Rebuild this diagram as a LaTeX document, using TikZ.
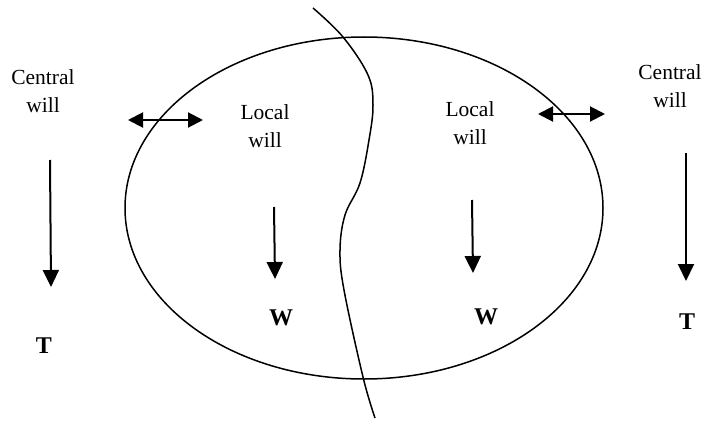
\documentclass[tikz,border=0pt]{standalone}
\usepackage{fontspec}
\setmainfont{Liberation Serif}
\usetikzlibrary{arrows.meta}
\tikzset{
  lbl/.style={align=center, font=\fontsize{21.5}{28}\selectfont, inner sep=0pt},
  bl/.style={font=\fontsize{24}{28}\selectfont\bfseries, inner sep=0pt},
  arr/.style={line width=2pt, -{Triangle[length=17pt,width=16pt]}},
  darr/.style={line width=2pt, {Triangle[length=15pt,width=15pt]}-{Triangle[length=15pt,width=15pt]}},
  thin line/.style={line width=1.5pt}
}
\begin{document}
\begin{tikzpicture}[x=1pt,y=-1pt]
\useasboundingbox (0,0) rectangle (707,428);
% ellipse and dividing curve
\draw[thin line] (364,208) ellipse [x radius=239, y radius=171];
\draw[thin line] plot[smooth, tension=0.6] coordinates {(313,8) (343,37) (368,75) (373,105) (369,140) (360,183) (345,215) (340,250) (344,290) (363,377) (375,418)};
% texts
\node[lbl] (cwl) at (43,91) {Central\\will};
\node[lbl] (cwr) at (670,86) {Central\\will};
\node[lbl] (lwl) at (265,126) {Local\\will};
\node[lbl] (lwr) at (470,123) {Local\\will};
\node[bl] (tl) at (44,346) {T};
\node[bl] (tr) at (687,322) {T};
\node[bl] (wl) at (281,318) {W};
\node[bl] (wr) at (486,317) {W};
% arrow end points
\coordinate (a1s) at (50,160); \coordinate (a1e) at (51,287);
\coordinate (a2s) at (686,153); \coordinate (a2e) at (686,281);
\coordinate (a3s) at (274,207); \coordinate (a3e) at (275,279);
\coordinate (a4s) at (472,200); \coordinate (a4e) at (473,273);
\coordinate (d1s) at (128,120); \coordinate (d1e) at (203,120);
\coordinate (d2s) at (538,114); \coordinate (d2e) at (605,114);
\draw[arr] (a1s) -- (a1e);
\draw[arr] (a2s) -- (a2e);
\draw[arr] (a3s) -- (a3e);
\draw[arr] (a4s) -- (a4e);
\draw[darr] (d1s) -- (d1e);
\draw[darr] (d2s) -- (d2e);
\end{tikzpicture}
\end{document}
